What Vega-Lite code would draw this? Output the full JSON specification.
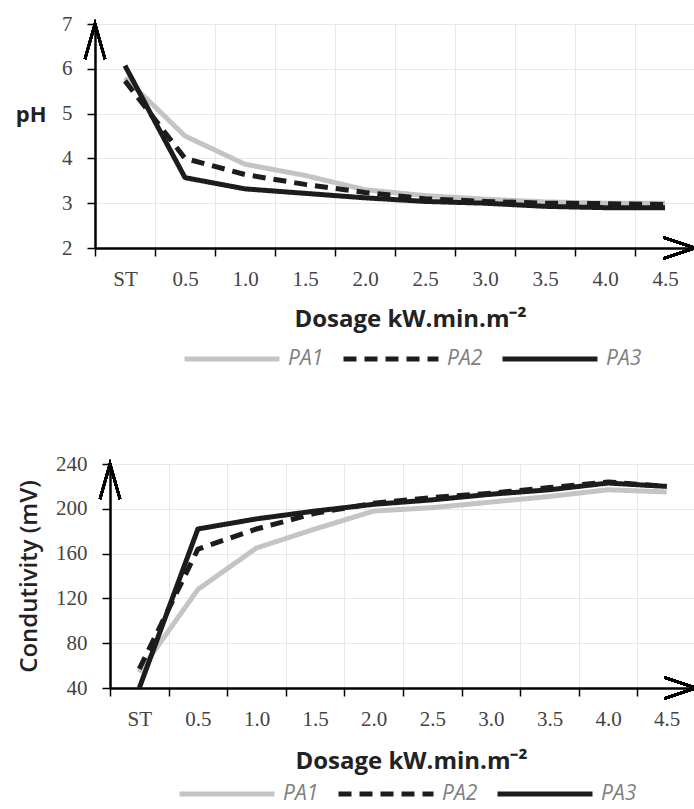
{
  "$schema": "https://vega.github.io/schema/vega-lite/v6.json",
  "background": "white",
  "padding": {"left": 15, "top": 13, "right": 0, "bottom": 12},
  "config": {
    "view": {"stroke": null},
    "axis": {
      "domainColor": "#000000", "domainWidth": 2.5,
      "tickColor": "#000000", "tickWidth": 1.5, "tickSize": 8,
      "gridColor": "#e8e8e8", "gridWidth": 1,
      "labelFont": "Liberation Serif", "labelFontSize": 21, "labelColor": "#444444",
      "titleFont": "Open Sans", "titleFontSize": 22, "titleFontWeight": "bold", "titleColor": "#222222"
    },
    "legend": {
      "orient": "none", "direction": "horizontal", "title": null,
      "symbolType": "M-9,0H1", "symbolSize": 361, "symbolStrokeWidth": 5,
      "labelFont": "Open Sans", "labelFontStyle": "italic", "labelFontSize": 21, "labelColor": "#808080",
      "labelOffset": 6, "columnPadding": 9
    }
  },
  "datasets": {
    "d": [
      {"dose": "ST", "series": "PA1", "pH": 5.8, "cond": 54},
      {"dose": "0.5", "series": "PA1", "pH": 4.5, "cond": 128},
      {"dose": "1.0", "series": "PA1", "pH": 3.87, "cond": 165},
      {"dose": "1.5", "series": "PA1", "pH": 3.62, "cond": 182},
      {"dose": "2.0", "series": "PA1", "pH": 3.3, "cond": 198},
      {"dose": "2.5", "series": "PA1", "pH": 3.17, "cond": 201},
      {"dose": "3.0", "series": "PA1", "pH": 3.09, "cond": 206},
      {"dose": "3.5", "series": "PA1", "pH": 3.03, "cond": 211},
      {"dose": "4.0", "series": "PA1", "pH": 3.0, "cond": 217},
      {"dose": "4.5", "series": "PA1", "pH": 3.0, "cond": 215},
      {"dose": "ST", "series": "PA2", "pH": 5.73, "cond": 57},
      {"dose": "0.5", "series": "PA2", "pH": 4.0, "cond": 164},
      {"dose": "1.0", "series": "PA2", "pH": 3.64, "cond": 182},
      {"dose": "1.5", "series": "PA2", "pH": 3.42, "cond": 196},
      {"dose": "2.0", "series": "PA2", "pH": 3.24, "cond": 205},
      {"dose": "2.5", "series": "PA2", "pH": 3.1, "cond": 210},
      {"dose": "3.0", "series": "PA2", "pH": 3.04, "cond": 214},
      {"dose": "3.5", "series": "PA2", "pH": 3.0, "cond": 219},
      {"dose": "4.0", "series": "PA2", "pH": 2.99, "cond": 224},
      {"dose": "4.5", "series": "PA2", "pH": 2.97, "cond": 220},
      {"dose": "ST", "series": "PA3", "pH": 6.07, "cond": 40},
      {"dose": "0.5", "series": "PA3", "pH": 3.57, "cond": 182},
      {"dose": "1.0", "series": "PA3", "pH": 3.32, "cond": 191},
      {"dose": "1.5", "series": "PA3", "pH": 3.22, "cond": 198},
      {"dose": "2.0", "series": "PA3", "pH": 3.12, "cond": 204},
      {"dose": "2.5", "series": "PA3", "pH": 3.04, "cond": 208},
      {"dose": "3.0", "series": "PA3", "pH": 3.0, "cond": 213},
      {"dose": "3.5", "series": "PA3", "pH": 2.93, "cond": 217},
      {"dose": "4.0", "series": "PA3", "pH": 2.9, "cond": 223},
      {"dose": "4.5", "series": "PA3", "pH": 2.9, "cond": 220}
    ]
  },
  "concat": [
    {
      "width": 600,
      "height": 224,
      "data": {"name": "d"},
      "layer": [
        {
          "mark": {"type": "line", "strokeWidth": 5, "strokeJoin": "round", "strokeCap": "butt"},
          "encoding": {
            "x": {
              "field": "dose", "type": "ordinal",
              "sort": ["ST", "0.5", "1.0", "1.5", "2.0", "2.5", "3.0", "3.5", "4.0", "4.5"],
              "scale": {"type": "band", "paddingInner": 0, "paddingOuter": 0},
              "axis": {"title": "Dosage kW.min.m⁻²", "titleFontSize": 24, "titleX": 315, "tickBand": "extent", "labelAngle": 0, "labelPadding": 12, "titlePadding": 18, "grid": true}
            },
            "y": {
              "field": "pH", "type": "quantitative",
              "scale": {"domain": [2, 7], "nice": false, "zero": false},
              "axis": {"values": [2, 3, 4, 5, 6, 7], "title": "pH", "titleAngle": 0, "titleAlign": "right", "titleBaseline": "middle", "titleX": -49, "titleY": 90, "labelPadding": 15}
            },
            "color": {
              "field": "series", "type": "nominal",
              "scale": {"domain": ["PA1", "PA2", "PA3"], "range": ["#c4c4c4", "#1c1c1c", "#1c1c1c"]},
              "legend": {"title": null, "legendX": 163, "legendY": 323}
            },
            "strokeDash": {
              "field": "series", "type": "nominal",
              "scale": {"domain": ["PA1", "PA2", "PA3"], "range": [[1, 0], [13, 8], [1, 0]]},
              "legend": {"title": null, "legendX": 163, "legendY": 323}
            }
          }
        },
        {
          "mark": {"type": "point", "shape": "M-1,3.5L0,0L1,3.5", "filled": false, "stroke": "#000000", "strokeWidth": 2.5, "size": 400, "opacity": 1},
          "encoding": {"x": {"value": 0}, "y": {"datum": 7}}
        },
        {
          "mark": {"type": "point", "shape": "M-3,-1L0,0L-3,1", "filled": false, "stroke": "#000000", "strokeWidth": 2.5, "size": 441, "opacity": 1},
          "encoding": {"x": {"value": "width"}, "y": {"datum": 2}}
        }
      ]
    },
    {
      "width": 601,
      "height": 224,
      "data": {"name": "d"},
      "layer": [
        {
          "mark": {"type": "line", "strokeWidth": 5, "strokeJoin": "round", "strokeCap": "butt"},
          "encoding": {
            "x": {
              "field": "dose", "type": "ordinal",
              "sort": ["ST", "0.5", "1.0", "1.5", "2.0", "2.5", "3.0", "3.5", "4.0", "4.5"],
              "scale": {"type": "band", "paddingInner": 0, "paddingOuter": 0, "range": [15, 601]},
              "axis": {"title": "Dosage kW.min.m⁻²", "titleFontSize": 24, "titleX": 316, "tickBand": "extent", "labelAngle": 0, "labelPadding": 12, "titlePadding": 20, "grid": true}
            },
            "y": {
              "field": "cond", "type": "quantitative",
              "scale": {"domain": [40, 240], "nice": false, "zero": false},
              "axis": {"values": [40, 80, 120, 160, 200, 240], "title": "Condutivity (mV)", "titleFontSize": 24, "titleFontWeight": 600, "titlePadding": 14, "labelPadding": 15, "offset": -15}
            },
            "color": {
              "field": "series", "type": "nominal",
              "scale": {"domain": ["PA1", "PA2", "PA3"], "range": ["#c4c4c4", "#1c1c1c", "#1c1c1c"]},
              "legend": {"title": null, "legendX": 158, "legendY": 318}
            },
            "strokeDash": {
              "field": "series", "type": "nominal",
              "scale": {"domain": ["PA1", "PA2", "PA3"], "range": [[1, 0], [13, 8], [1, 0]]},
              "legend": {"title": null, "legendX": 158, "legendY": 318}
            }
          }
        },
        {
          "mark": {"type": "point", "shape": "M-1,3.5L0,0L1,3.5", "filled": false, "stroke": "#000000", "strokeWidth": 2.5, "size": 400, "opacity": 1},
          "encoding": {"x": {"datum": "ST", "bandPosition": 0}, "y": {"datum": 240}}
        },
        {
          "mark": {"type": "point", "shape": "M-3,-1L0,0L-3,1", "filled": false, "stroke": "#000000", "strokeWidth": 2.5, "size": 441, "opacity": 1},
          "encoding": {"x": {"value": "width"}, "y": {"datum": 40}}
        }
      ]
    }
  ],
  "columns": 1,
  "spacing": 84,
  "align": "none",
  "resolve": {"scale": {"color": "independent", "strokeDash": "independent"}}
}
